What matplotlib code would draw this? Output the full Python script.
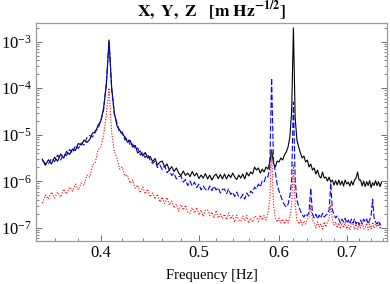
import numpy as np
import matplotlib
matplotlib.use('Agg')
import matplotlib.pyplot as plt
from matplotlib.ticker import FixedLocator, NullFormatter, FormatStrFormatter

# frequency bins [Hz], 0.0025 Hz spacing
freq = np.arange(164) * 0.0025 + 0.35

# amplitude spectral densities, in units of 1e-6 m Hz^-1/2 (8 bins per row)
x_black = [
    3.0, 2.2, 2.9, 2.35, 3.3, 2.7, 3.85, 3.15,
    4.36, 3.76, 4.94, 4.58, 6.5, 6.0, 7.7, 6.8,
    7.9, 10.9, 11.2, 16.2, 19.7, 37.5, 117, 1090,
    101, 29, 15.4, 12.7, 10.4, 9.0, 6.9, 7.6,
    5.45, 5.9, 4.05, 4.47, 3.5, 4.15, 3.16, 3.4,
    2.65, 3.08, 2.23, 2.59, 2.72, 2.02, 2.35, 1.74,
    2.07, 1.62, 1.93, 1.5, 1.33, 1.66, 1.33, 1.5,
    1.26, 1.62, 1.3, 1.5, 1.14, 1.36, 1.17, 1.46,
    1.12, 1.36, 1.06, 1.3, 1.43, 1.14, 1.4, 1.12,
    1.43, 1.12, 1.4, 1.2, 1.5, 1.23, 1.09, 1.36,
    1.17, 1.43, 1.12, 1.54, 1.3, 1.58, 1.43, 2.02,
    1.74, 1.93, 1.5, 1.83, 1.58, 2.02, 1.83, 2.59,
    4.7, 2.47, 2.02, 2.72, 2.59, 3.16, 2.86, 3.67,
    4.26, 5.45, 8.9, 31, 1970, 22.9, 7.7, 5.45,
    4.05, 3.16, 3.49, 2.59, 2.86, 2.02, 2.35, 1.74,
    1.93, 1.43, 1.74, 1.3, 1.17, 1.58, 1.17, 1.23,
    1.01, 1.23, 0.96, 1.06, 0.83, 1.03, 0.83, 1.06,
    0.83, 1.01, 0.79, 1.06, 0.87, 0.96, 0.79, 1.01,
    0.83, 1.06, 1.17, 1.58, 1.06, 1.06, 0.79, 1.01,
    0.77, 0.98, 0.81, 1.03, 0.73, 0.94, 0.81, 1.03,
    0.81, 0.98, 0.77, 0.94]

y_blue = [
    2.86, 2.41, 2.35, 3.08, 2.65, 3.67, 2.86, 3.85,
    3.58, 4.82, 4.05, 5.87, 5.06, 6.65, 6.02, 8.7,
    9.6, 8.94, 12.3, 13.4, 20.7, 34, 129, 985,
    91.5, 26.5, 17.9, 10.9, 11.4, 7.7, 8.5, 6.0,
    6.33, 4.82, 5.19, 3.67, 4.05, 3.24, 3.85, 2.79,
    2.41, 2.72, 1.97, 2.23, 1.78, 2.13, 1.54, 1.74,
    1.33, 1.5, 1.12, 1.26, 1.3, 0.96, 1.09, 0.81,
    1.01, 0.79, 0.96, 0.73, 0.87, 0.65, 0.79, 0.67,
    0.62, 0.79, 0.63, 0.79, 0.65, 0.73, 0.56, 0.67,
    0.68, 0.54, 0.68, 0.52, 0.585, 0.47, 0.585, 0.46,
    0.435, 0.52, 0.414, 0.56, 0.48, 0.615, 0.56, 0.75,
    0.68, 0.87, 0.75, 1.01, 0.96, 1.3, 1.23, 1.93,
    166, 2.86, 1.58, 0.83, 0.615, 0.48, 0.375, 0.31,
    0.28, 0.32, 0.48, 1.06, 50.5, 1.06, 0.39, 0.29,
    0.23, 0.19, 0.17, 0.2, 0.18, 0.22, 0.71, 0.2,
    0.162, 0.197, 0.154, 0.188, 0.162, 0.207, 0.17, 0.188,
    0.197, 0.24, 0.915, 0.24, 0.197, 0.162, 0.179, 0.154,
    0.126, 0.154, 0.133, 0.162, 0.126, 0.147, 0.12, 0.154,
    0.126, 0.154, 0.12, 0.14, 0.114, 0.147, 0.12, 0.154,
    0.133, 0.154, 0.12, 0.147, 0.188, 0.414, 0.162, 0.133,
    0.12, 0.14, 0.114, 0.133]

z_red = [
    0.34, 0.505, 0.414, 0.585, 0.435, 0.585, 0.457, 0.68,
    0.53, 0.75, 0.615, 0.87, 0.65, 0.915, 0.83, 1.36,
    1.23, 2.23, 2.59, 4.7, 5.45, 9.9, 26.5, 101,
    11, 4.26, 3.16, 1.83, 2.02, 1.3, 1.36, 0.915,
    1.06, 0.71, 0.83, 0.56, 0.75, 0.53, 0.68, 0.46,
    0.56, 0.414, 0.53, 0.357, 0.457, 0.33, 0.446, 0.308,
    0.375, 0.265, 0.323, 0.229, 0.315, 0.24, 0.308, 0.212,
    0.207, 0.272, 0.207, 0.272, 0.188, 0.24, 0.175, 0.24,
    0.24, 0.184, 0.218, 0.162, 0.235, 0.162, 0.197, 0.158,
    0.197, 0.15, 0.207, 0.154, 0.184, 0.133, 0.188, 0.147,
    0.137, 0.179, 0.14, 0.184, 0.126, 0.162, 0.133, 0.179,
    0.17, 0.137, 0.188, 0.147, 0.184, 0.147, 0.207, 0.394,
    4.7, 0.308, 0.162, 0.133, 0.162, 0.126, 0.154, 0.12,
    0.154, 0.126, 0.17, 0.308, 2.23, 0.308, 0.147, 0.12,
    0.147, 0.114, 0.14, 0.12, 0.154, 0.162, 0.308, 0.147,
    0.126, 0.099, 0.133, 0.104, 0.12, 0.094, 0.133, 0.104,
    0.133, 0.162, 0.308, 0.154, 0.114, 0.133, 0.099, 0.126,
    0.094, 0.126, 0.099, 0.133, 0.094, 0.114, 0.09, 0.12,
    0.126, 0.094, 0.12, 0.09, 0.126, 0.099, 0.133, 0.094,
    0.099, 0.126, 0.09, 0.12, 0.094, 0.133, 0.099, 0.12,
    0.104, 0.12, 0.094, 0.114]

xticks = [0.4, 0.5, 0.6, 0.7]
xminor = [0.36, 0.38, 0.42, 0.44, 0.46, 0.48, 0.52, 0.54, 0.56, 0.58,
          0.62, 0.64, 0.66, 0.68, 0.72, 0.74, 0.76]

plt.rcParams['font.family'] = 'serif'
plt.rcParams['font.serif'] = ['Liberation Serif', 'DejaVu Serif']
plt.rcParams['mathtext.fontset'] = 'stix'

fig = plt.figure(figsize=(3.9, 2.84), dpi=100)
ax = fig.add_axes([36 / 390, 1 - 241 / 284, 351 / 390, 218 / 284])

ax.plot(freq, np.array(x_black) * 1e-6, color='black', lw=0.8)
ax.plot(freq, np.array(y_blue) * 1e-6, color='blue', lw=0.8,
        linestyle=(0, (5, 2)))
ax.plot(freq, np.array(z_red) * 1e-6, color='red', lw=0.8,
        linestyle=(0, (1, 1.5)))

ax.set_xscale('log')
ax.set_yscale('log')
ax.set_xlim(0.3451, 0.7672)
ax.set_ylim(5.2e-8, 2.52e-3)

ax.xaxis.set_major_locator(FixedLocator(xticks))
ax.xaxis.set_major_formatter(FormatStrFormatter('%.1f'))
ax.xaxis.set_minor_locator(FixedLocator(xminor))
ax.xaxis.set_minor_formatter(NullFormatter())

frame = '#9a9a9a'
for s in ax.spines.values():
    s.set_color(frame)
    s.set_linewidth(0.9)
ax.tick_params(which='both', direction='in', right=True, top=False,
               color='#555555', labelsize=12, pad=3)
ax.tick_params(which='major', length=4, width=0.6)
ax.tick_params(which='minor', length=2, width=0.5)

ax.set_xlabel('Frequency [Hz]', fontsize=10.5, labelpad=6)
ax.set_title(r'$\mathbf{X,\ Y,\ Z\ \ \ [m\ Hz^{-1/2}]}$', fontsize=12.5, pad=3)

fig.savefig('out.png', dpi=100)
